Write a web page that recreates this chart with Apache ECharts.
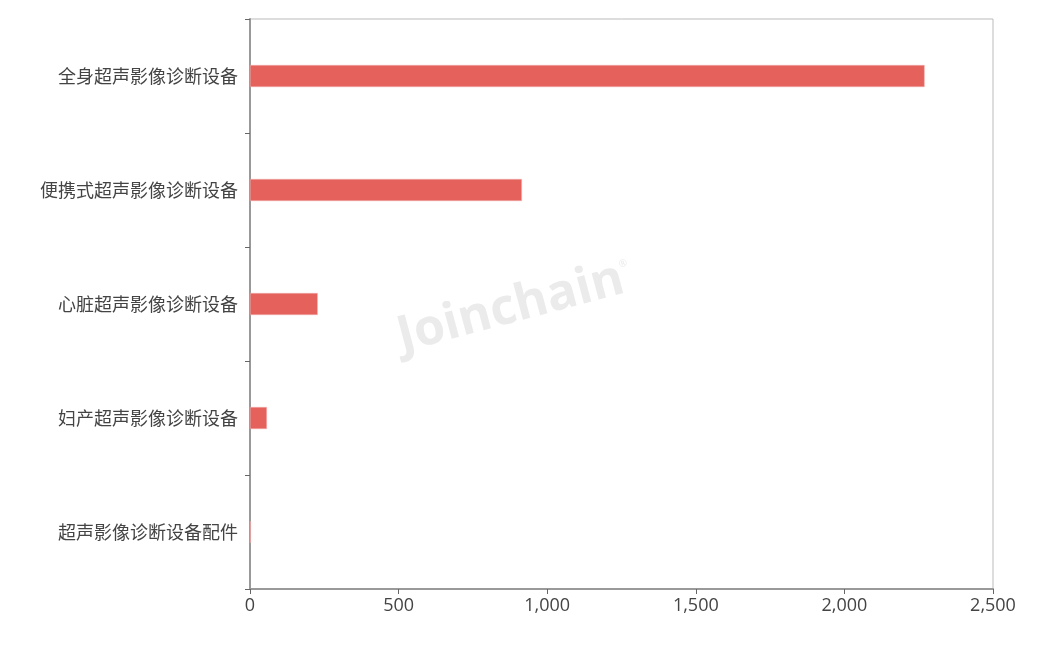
<!DOCTYPE html>
<html><head><meta charset="utf-8">
<script src="https://cdn.jsdelivr.net/npm/echarts@6/dist/echarts.min.js"></script>
<style>html,body{margin:0;padding:0;background:#fff}#c{width:1044px;height:657px}</style>
</head><body><div id="c"></div>
<script>
const categories = ['全身超声影像诊断设备','便携式超声影像诊断设备','心脏超声影像诊断设备','妇产超声影像诊断设备','超声影像诊断设备配件'];
const values = [2270, 915, 228, 57, 3];
const xTicks = [0, 500, 1000, 1500, 2000, 2500];

const chart = echarts.init(document.getElementById('c'));
chart.setOption({
  animation: false,
  grid: {left: 250, right: 51, top: 19, bottom: 68, show: true, borderColor: '#bbb', borderWidth: 1},
  graphic: [{
    type: 'group', left: 392, top: 252, rotation: Math.PI * 15 / 180,
    children: [
      {type: 'text', style: {text: 'Joinchain', font: 'bold 50px "Open Sans", "DejaVu Sans", sans-serif', fill: '#ebebeb'}, x: 0, y: 0},
      {type: 'text', style: {text: '®', font: '10px "Open Sans", sans-serif', fill: '#ebebeb'}, x: 232, y: 6}
    ]
  }],
  xAxis: {
    type: 'value', min: xTicks[0], max: xTicks[xTicks.length - 1], interval: 500,
    splitLine: {show: false},
    axisLine: {show: true, lineStyle: {color: '#999', width: 2}},
    axisTick: {show: true, lineStyle: {color: '#666'}},
    axisLabel: {color: '#444', fontSize: 18, fontFamily: '"Open Sans", "Noto Sans", sans-serif', margin: 8,
      formatter: v => v.toLocaleString('en-US')}
  },
  yAxis: {
    type: 'category', data: categories, inverse: true,
    axisLine: {show: true, lineStyle: {color: '#999', width: 2}},
    axisTick: {show: true, lineStyle: {color: '#666'}},
    axisLabel: {color: '#444', fontSize: 18, fontFamily: '"Noto Sans CJK SC", sans-serif', margin: 12}
  },
  series: [{
    type: 'bar', data: values, barWidth: 22,
    itemStyle: {color: '#E5625C', borderColor: '#f5b5b2', borderWidth: 0.5}
  }]
});
</script></body></html>
